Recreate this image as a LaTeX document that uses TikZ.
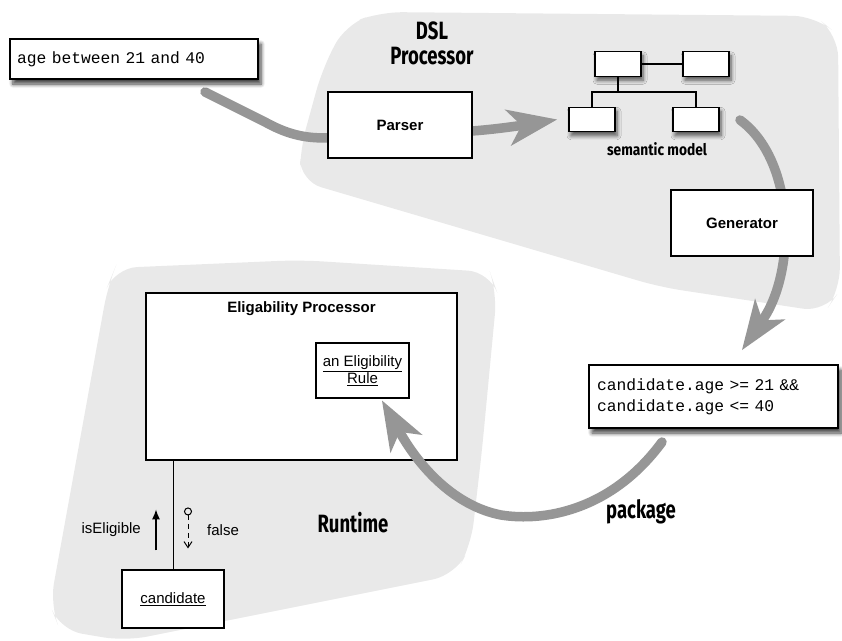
\documentclass[tikz,border=0pt]{standalone}
\usepackage{fontspec}
\usepackage{graphicx}
\setmainfont{Liberation Sans}
\newfontfamily\codefont{Liberation Mono}
\newfontfamily\handfont{Fira Sans}
\usetikzlibrary{arrows.meta,shadows.blur,calc}

\definecolor{blobgray}{RGB}{233,233,233}
\definecolor{arrowgray}{RGB}{150,150,150}

% condensed bold lettering for the region and flow labels
\newcommand{\handtext}[2][0.74]{\scalebox{#1}[1]{\handfont\bfseries #2}}

\tikzset{
  box/.style={draw=black, line width=1.1pt, fill=white, inner sep=0pt},
  shadowbox/.style={box, blur shadow={shadow xshift=3pt, shadow yshift=-5pt,
      shadow blur steps=6, shadow blur radius=4pt, shadow opacity=75}},
  modelbox/.style={draw=black, line width=1.4pt, fill=white, inner sep=0pt,
      minimum width=46pt, minimum height=24.5pt,
      blur shadow={shadow xshift=2pt, shadow yshift=-4pt, shadow blur steps=6,
      shadow opacity=65, shadow blur radius=4pt}},
  procbox/.style={box, font=\fontsize{15}{18}\selectfont\bfseries},
  codetext/.style={font=\codefont\fontsize{16.3}{21}\selectfont},
  flow/.style={draw=arrowgray, line width=9.5pt, line cap=round},
  bigflow/.style={flow, -{Stealth[length=50pt,width=37pt,inset=14pt,line width=0pt]}},
  handlabel/.style={inner sep=0pt, font=\fontsize{25}{26}\selectfont},
  plain/.style={inner sep=0pt, font=\fontsize{15}{18}\selectfont},
  tree/.style={draw=black, line width=1.3pt},
}

\begin{document}
\begin{tikzpicture}[x=1pt, y=-1pt]
\useasboundingbox (0,0) rectangle (842,640);

% ---- background regions ----
\fill[blobgray, rounded corners=22pt]
  (380,12) -- (815,16) -- (838,35) -- (840,290) -- (825,312)
  -- (660,287) -- (300,181) -- (300,150) -- (322,70) -- (345,25) -- cycle;
\fill[blobgray, rounded corners=22pt]
  (115,268) -- (300,260) -- (490,272) -- (497,292) -- (482,450)
  -- (471,545) -- (455,575) -- (125,641) -- (60,630) -- (50,605)
  -- (108,285) -- cycle;

% ---- region labels ----
\node[handlabel] (dsl) at (432,31) {\handtext{DSL}};
\node[handlabel] (dslproc) at (432,56) {\handtext{Processor}};
\node[handlabel] (runtime) at (353,523) {\handtext{Runtime}};
\node[handlabel] (pkg) at (641,512) {\handtext{package}};

% ---- anchor points of the flow arrows ----
\coordinate (srcstart) at (205,92);
\coordinate (genstart) at (740,120);
\coordinate (pkgstart) at (662,442);
\coordinate (pkglow) at (501,515);
\coordinate (m3c) at (592,119.5);

% ---- flow arrows of the DSL processor (its boxes are drawn on top) ----
\draw[flow] (srcstart) -- (265,122) .. controls (292,137) and (310,138) .. (328,138);
\draw[bigflow] (472,131) .. controls (500,129) and (530,124) .. ($(m3c)+(-35,0)$);
\draw[bigflow] (genstart) .. controls (795,160) and (797,270) .. (742,350);

% ---- text boxes ----
\node[shadowbox, codetext, minimum height=40pt, text width=234pt,
     inner xsep=7pt, align=left] (src) at (134,59) {age between 21 and 40};
\node[shadowbox, codetext, minimum height=63pt, text width=233pt,
     inner xsep=8pt, align=left] (code) at (713.5,396.5)
     {candidate.age >= 21 \&\&\\candidate.age <= 40};

% ---- DSL processor parts ----
\node[procbox, minimum width=144pt, minimum height=66pt] (parser) at (400,125) {Parser};
\node[procbox, minimum width=142pt, minimum height=66pt] (gen) at (742,223) {Generator};

\node[modelbox] (m1) at (618,64) {};
\node[modelbox] (m2) at (706,64) {};
\node[modelbox] (m3) at (m3c) {};
\node[modelbox] (m4) at (696,119.5) {};
\draw[tree] (m1.east) -- (m2.west);
\coordinate (branch) at ($(m1.south)+(0,15)$);
\draw[tree] (m1.south) -- (branch);
\draw[tree] (m3.north) -- (m3.north |- branch) -- (m4.north |- branch) -- (m4.north);
\node[inner sep=0pt, font=\fontsize{16}{18}\selectfont] (semlabel) at (657,149)
  {\handtext[0.86]{semantic model}};

% ---- runtime parts ----
\node[box, minimum width=311pt, minimum height=167pt] (ep) at (301.5,376.5) {};
\node[plain, font=\fontsize{15}{18}\selectfont\bfseries] (eptitle) at (301.5,309)
  {Eligability Processor};
\node[box, plain, minimum width=93pt, minimum height=55pt, align=center]
  (rule) at (362.5,370.5) {\underline{an Eligibility}\\[-1pt]\underline{Rule}};
\node[box, plain, minimum width=102pt, minimum height=58pt] (cand) at (173,599)
  {\underline{candidate}};

% the package flow runs over the processor box up to the rule
\draw[bigflow] (pkgstart) .. controls (612,510) and (545,522) .. (pkglow)
  .. controls (455,506) and (420,468) .. ($(rule.south)+(19.5,2)$);

\draw[line width=0.9pt] (cand.north) -- (cand.north |- ep.south);

\coordinate (eligfrom) at ($(cand.north)+(-17,-19)$);
\coordinate (eligto) at ($(cand.north)+(-17,-60)$);
\draw[line width=1.1pt, -{Latex[length=10pt,width=8pt]}] (eligfrom) -- (eligto);

\coordinate (falsefrom) at ($(cand.north)+(15,-62)$);
\coordinate (falseto) at ($(cand.north)+(15,-21)$);
\draw[line width=1pt, dash pattern=on 5pt off 4pt,
      {Circle[open,length=8pt,width=8pt]}-{Straight Barb[length=6pt,width=8pt]}]
  (falsefrom) -- (falseto);

\node[plain, anchor=east] (elig) at (141,530) {isEligible};
\node[plain, anchor=west] (false) at (207,530) {false};
\end{tikzpicture}
\end{document}
